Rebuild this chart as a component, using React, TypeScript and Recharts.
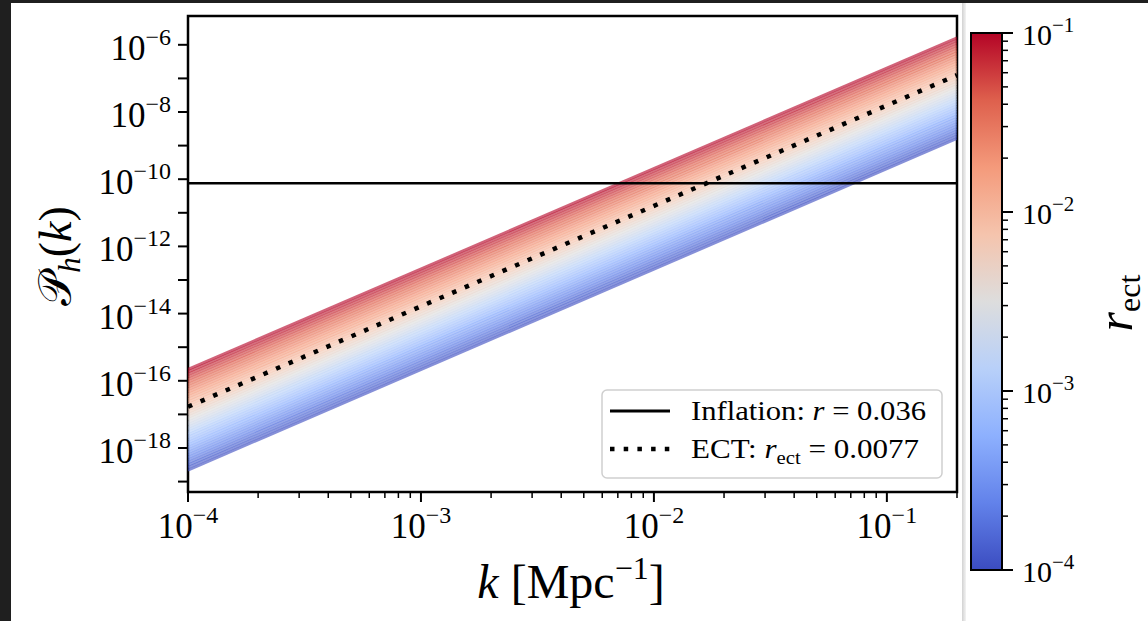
import React from "react";
import {
  LineChart,
  ComposedChart,
  Line,
  XAxis,
  YAxis,
  ReferenceLine,
  ReferenceArea,
  Legend,
} from "recharts";

const FONT = '"Liberation Serif", "DejaVu Serif", serif';
const INK = "#000";

// k values where the power-law lines are sampled (ends of the x range)
const kValues = [1e-4, 0.2];
// P_h(k) / r_ect at those k
const templateValues = [2.19e-15, 1.62e-5];
// log10(r_ect) of every coloured line (colourbar runs 1e-4 .. 1e-1)
const rExponents = [
  -4, -3.925, -3.85, -3.775, -3.7, -3.625, -3.55, -3.475, -3.4, -3.325,
  -3.25, -3.175, -3.1, -3.025, -2.95, -2.875, -2.8, -2.725, -2.65, -2.575,
  -2.5, -2.425, -2.35, -2.275, -2.2, -2.125, -2.05, -1.975, -1.9, -1.825,
  -1.75, -1.675, -1.6, -1.525, -1.45, -1.375, -1.3, -1.225, -1.15, -1.075, -1,
];
const rEct = 0.0077;
const rInflation = 0.036;
const pInflation = 7.6e-11;

const xDomain = [1e-4, 0.2];
const yDomain = [4.9e-20, 7.2e-6];
const xMajor = [1e-4, 1e-3, 1e-2, 1e-1];
const xMinor = [
  2e-4, 3e-4, 4e-4, 5e-4, 6e-4, 7e-4, 8e-4, 9e-4,
  2e-3, 3e-3, 4e-3, 5e-3, 6e-3, 7e-3, 8e-3, 9e-3,
  2e-2, 3e-2, 4e-2, 5e-2, 6e-2, 7e-2, 8e-2, 9e-2, 0.2,
];
const yTicks = [1e-19, 1e-18, 1e-17, 1e-16, 1e-15, 1e-14, 1e-13, 1e-12, 1e-11, 1e-10, 1e-9, 1e-8, 1e-7, 1e-6];
const yLabelled = [-18, -16, -14, -12, -10, -8, -6];

const cbarMajor = [1e-4, 1e-3, 1e-2, 1e-1];
const cbarMinor = [
  2e-4, 3e-4, 4e-4, 5e-4, 6e-4, 7e-4, 8e-4, 9e-4,
  2e-3, 3e-3, 4e-3, 5e-3, 6e-3, 7e-3, 8e-3, 9e-3,
  2e-2, 3e-2, 4e-2, 5e-2, 6e-2, 7e-2, 8e-2, 9e-2,
];

// matplotlib "coolwarm" anchors
const COOLWARM = [
  [59, 76, 192],
  [98, 130, 234],
  [141, 176, 254],
  [184, 208, 249],
  [221, 221, 221],
  [245, 196, 173],
  [244, 154, 123],
  [222, 96, 77],
  [180, 4, 38],
];

function coolwarm(t: number) {
  const s = Math.max(0, Math.min(1, t)) * (COOLWARM.length - 1);
  const i = Math.min(COOLWARM.length - 2, Math.floor(s));
  const f = s - i;
  const c = COOLWARM[i].map((v, j) => Math.round(v + (COOLWARM[i + 1][j] - v) * f));
  return `rgb(${c[0]},${c[1]},${c[2]})`;
}

const rows = kValues.map((k, i) => {
  const row: Record<string, number> = { k, ect: rEct * templateValues[i] };
  rExponents.forEach((e, j) => {
    row["r" + j] = Math.pow(10, e) * templateValues[i];
  });
  return row;
});

const isMajor = (v: number, list: number[]) => list.some((m) => Math.abs(m - v) / m < 1e-6);
const minus = (n: number) => "\u2212" + Math.abs(n);
const serif = { fontFamily: FONT };

function XTick(props: any) {
  const { x, y, payload } = props;
  const v = payload.value;
  const major = isMajor(v, xMajor);
  const exp = Math.round(Math.log10(v));
  return (
    <g>
      <line x1={x} x2={x} y1={y} y2={y + (major ? 10 : 6)} stroke={INK} strokeWidth={major ? 2 : 1.5} />
      {major && (
        <text x={x} y={y + 46} textAnchor="middle" style={serif} fontSize={35} fill={INK}>
          10<tspan dy={-15} fontSize={24}>{minus(exp)}</tspan>
        </text>
      )}
    </g>
  );
}

function YTick(props: any) {
  const { x, y, payload } = props;
  const exp = Math.round(Math.log10(payload.value));
  return (
    <g>
      <line x1={x} x2={x - 10} y1={y} y2={y} stroke={INK} strokeWidth={2} />
      {yLabelled.includes(exp) && (
        <text x={x - 17} y={y + 15} textAnchor="end" style={serif} fontSize={35} fill={INK}>
          10<tspan dy={-15} fontSize={24}>{minus(exp)}</tspan>
        </text>
      )}
    </g>
  );
}

function CbarTick(props: any) {
  const { x, y, payload } = props;
  const v = payload.value;
  const major = isMajor(v, cbarMajor);
  const exp = Math.round(Math.log10(v));
  return (
    <g>
      <line x1={x} x2={x + (major ? 11 : 6)} y1={y} y2={y} stroke={INK} strokeWidth={major ? 2 : 1.5} />
      {major && (
        <text x={x + 20} y={y + 12} textAnchor="start" style={serif} fontSize={30} fill={INK}>
          10<tspan dy={-13} fontSize={21}>{minus(exp)}</tspan>
        </text>
      )}
    </g>
  );
}

function XTitle() {
  return (
    <text x={571} y={598} textAnchor="middle" style={serif} fontSize={48} fill={INK}>
      <tspan fontStyle="italic">k</tspan> [Mpc
      <tspan dy={-19} fontSize={32}>{"\u22121"}</tspan>
      <tspan dy={19}>]</tspan>
    </text>
  );
}

function YTitle() {
  return (
    <text transform="translate(71,256) rotate(-90)" textAnchor="middle" style={serif} fontSize={46} fill={INK}>
      {"\u{1D4AB}"}
      <tspan dy={9} fontSize={31} fontStyle="italic">h</tspan>
      <tspan dy={-9}>(</tspan>
      <tspan fontStyle="italic">k</tspan>)
    </text>
  );
}

function CbarTitle() {
  return (
    <text transform="translate(168,303) rotate(-90)" textAnchor="middle" style={serif} fontSize={50} fill={INK}>
      <tspan fontStyle="italic">r</tspan>
      <tspan dy={8} fontSize={32}>ect</tspan>
    </text>
  );
}

function LegendBox() {
  return (
    <svg width={342} height={90} style={{ display: "block" }}>
      <rect x={1} y={1} width={340} height={88} rx={5} fill="#fff" stroke="#cfcfcf" strokeWidth={1.5} />
      <line x1={9} x2={69} y1={22} y2={22} stroke={INK} strokeWidth={3} />
      <line x1={9} x2={71} y1={60} y2={60} stroke={INK} strokeWidth={4.5} strokeDasharray="4.5 9.2" />
      <text x={90} y={31} style={serif} fontSize={27} fill={INK} textLength={235} lengthAdjust="spacingAndGlyphs">
        Inflation: <tspan fontStyle="italic">r</tspan> = {rInflation}
      </text>
      <text x={90} y={69} style={serif} fontSize={27} fill={INK} textLength={228} lengthAdjust="spacingAndGlyphs">
        ECT: <tspan fontStyle="italic">r</tspan>
        <tspan dy={6} fontSize={18}>ect</tspan>
        <tspan dy={-6}> = {rEct}</tspan>
      </text>
    </svg>
  );
}

export default function App() {
  return (
    <div style={{ position: "fixed", left: 0, top: 0, width: 1148, height: 621, background: "#1f1f1f", overflow: "hidden" }}>
      <div style={{ position: "absolute", left: 11, top: 3, width: 951, height: 618, background: "#fff" }} />
      <div style={{ position: "absolute", left: 962, top: 3, width: 4, height: 618, background: "linear-gradient(to right, #d2d2d2, #f3f3f3)" }} />
      <div style={{ position: "absolute", left: 966, top: 3, width: 182, height: 618, background: "#fff" }} />

      <div style={{ position: "absolute", left: 0, top: 0 }}>
        <LineChart width={962} height={621} data={rows} margin={{ top: 16, right: 5, bottom: 49, left: 68 }}>
          <XAxis
            dataKey="k"
            type="number"
            scale="log"
            domain={xDomain}
            allowDataOverflow
            ticks={[...xMajor, ...xMinor]}
            interval={0}
            tickSize={0}
            tickMargin={0}
            axisLine={false}
            tickLine={false}
            tick={<XTick />}
            height={80}
            label={<XTitle />}
          />
          <YAxis
            type="number"
            scale="log"
            domain={yDomain}
            allowDataOverflow
            ticks={yTicks}
            interval={0}
            tickSize={0}
            tickMargin={0}
            axisLine={false}
            tickLine={false}
            tick={<YTick />}
            width={120}
            label={<YTitle />}
          />
          {rExponents.map((e, j) => (
            <Line
              key={j}
              dataKey={"r" + j}
              type="linear"
              stroke={coolwarm((e + 4) / 3)}
              strokeOpacity={0.62}
              strokeWidth={2.8}
              dot={false}
              activeDot={false}
              isAnimationActive={false}
            />
          ))}
          <Line
            dataKey="ect"
            type="linear"
            stroke={INK}
            strokeWidth={4.5}
            strokeDasharray="4.5 9.2"
            dot={false}
            activeDot={false}
            isAnimationActive={false}
          />
          <ReferenceLine y={pInflation} stroke={INK} strokeWidth={2.6} ifOverflow="visible" />
          <ReferenceArea
            x1={xDomain[0]}
            x2={xDomain[1]}
            y1={yDomain[0]}
            y2={yDomain[1]}
            fill="none"
            fillOpacity={0}
            stroke={INK}
            strokeWidth={2.5}
            ifOverflow="visible"
          />
          <Legend
            layout="vertical"
            align="center"
            verticalAlign="middle"
            content={() => <LegendBox />}
            wrapperStyle={{ position: "absolute", left: 601, top: 389, width: 342, height: 90 }}
          />
        </LineChart>
      </div>

      <div style={{ position: "absolute", left: 964, top: 0 }}>
        <ComposedChart width={184} height={621} data={[{ c: 0 }, { c: 1 }]} margin={{ top: 33, right: 0, bottom: 51, left: 7 }}>
          <defs>
            <linearGradient id="cbar" x1="0" y1="1" x2="0" y2="0">
              {COOLWARM.map((c, i) => (
                <stop key={i} offset={i / (COOLWARM.length - 1)} stopColor={`rgb(${c[0]},${c[1]},${c[2]})`} />
              ))}
            </linearGradient>
          </defs>
          <XAxis dataKey="c" type="number" domain={[0, 1]} hide height={0} />
          <YAxis
            orientation="right"
            type="number"
            scale="log"
            domain={[1e-4, 1e-1]}
            allowDataOverflow
            ticks={[...cbarMajor, ...cbarMinor]}
            interval={0}
            tickSize={0}
            tickMargin={0}
            axisLine={false}
            tickLine={false}
            tick={<CbarTick />}
            width={146}
            label={<CbarTitle />}
          />
          <ReferenceArea
            x1={0}
            x2={1}
            y1={1e-4}
            y2={1e-1}
            fill="url(#cbar)"
            fillOpacity={1}
            stroke={INK}
            strokeWidth={2}
            ifOverflow="visible"
          />
        </ComposedChart>
      </div>
    </div>
  );
}
